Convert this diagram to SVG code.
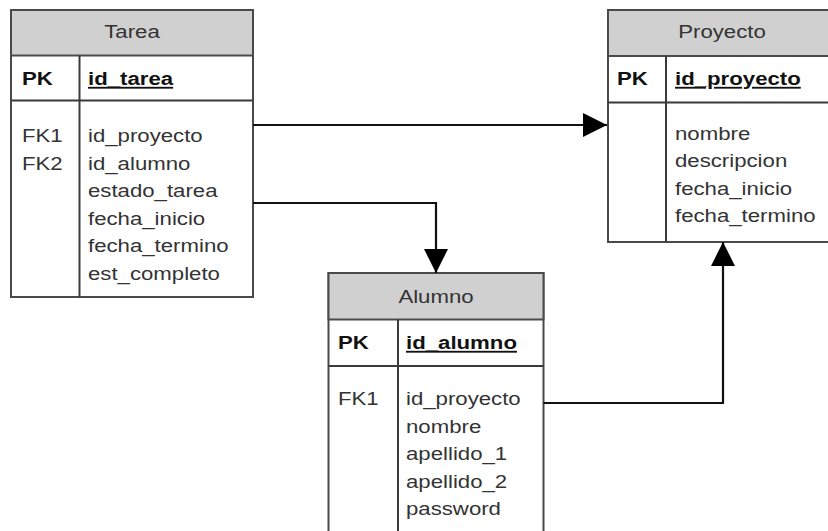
<svg xmlns="http://www.w3.org/2000/svg" width="828" height="531" viewBox="0 0 828 531">
  <defs>
    <style>
      .box { fill: #ffffff; stroke: #4a4a4a; stroke-width: 2; }
      .head { fill: #d0d0d0; stroke: #4a4a4a; stroke-width: 2; }
      .rule { stroke: #3a3a3a; stroke-width: 2; fill: none; }
      .link { stroke: #111111; stroke-width: 2.2; fill: none; }
      text { font-family: "Liberation Sans", Arial, sans-serif; font-size: 18.5px; fill: #333333; }
      .title { text-anchor: middle; }
      .key { font-weight: bold; fill: #111111; }
      .pk { font-weight: bold; fill: #111111; text-decoration: underline; }
    </style>
    <marker id="arrow" viewBox="0 0 24 24" refX="24" refY="12" markerWidth="24" markerHeight="24" markerUnits="userSpaceOnUse" orient="auto">
      <path d="M0,0 L24,12 L0,24 Z" fill="#000000"/>
    </marker>
  </defs>

  <!-- Table: Tarea -->
  <g id="tarea">
    <rect class="box" x="11" y="10" width="242" height="287"/>
    <rect class="head" x="11" y="10" width="242" height="45.5"/>
    <line class="rule" x1="11" y1="100.5" x2="253" y2="100.5"/>
    <line class="rule" x1="79.5" y1="55.5" x2="79.5" y2="297"/>
    <text class="title" transform="translate(132 38) scale(1.2 1)">Tarea</text>
    <text class="key" transform="translate(22 85) scale(1.2 1)">PK</text>
    <text class="pk" transform="translate(88 85) scale(1.2 1)">id_tarea</text>
    <text transform="translate(22 142) scale(1.2 1)">FK1</text>
    <text transform="translate(22 169.5) scale(1.2 1)">FK2</text>
    <text transform="translate(88 142) scale(1.2 1)">id_proyecto</text>
    <text transform="translate(88 169.5) scale(1.2 1)">id_alumno</text>
    <text transform="translate(88 197) scale(1.2 1)">estado_tarea</text>
    <text transform="translate(88 224.5) scale(1.2 1)">fecha_inicio</text>
    <text transform="translate(88 252) scale(1.2 1)">fecha_termino</text>
    <text transform="translate(88 279.5) scale(1.2 1)">est_completo</text>
  </g>

  <!-- Table: Proyecto (runs past the right edge) -->
  <g id="proyecto">
    <rect class="box" x="608" y="10" width="230" height="232"/>
    <rect class="head" x="608" y="10" width="230" height="46"/>
    <line class="rule" x1="608" y1="102.5" x2="838" y2="102.5"/>
    <line class="rule" x1="666" y1="56" x2="666" y2="242"/>
    <text class="title" transform="translate(722 38) scale(1.2 1)">Proyecto</text>
    <text class="key" transform="translate(617 85) scale(1.2 1)">PK</text>
    <text class="pk" transform="translate(675 85) scale(1.2 1)">id_proyecto</text>
    <text transform="translate(675 140) scale(1.2 1)">nombre</text>
    <text transform="translate(675 167.3) scale(1.2 1)">descripcion</text>
    <text transform="translate(675 194.6) scale(1.2 1)">fecha_inicio</text>
    <text transform="translate(675 222) scale(1.2 1)">fecha_termino</text>
  </g>

  <!-- Table: Alumno (runs past the bottom edge) -->
  <g id="alumno">
    <rect class="box" x="328.5" y="273" width="215" height="270"/>
    <rect class="head" x="328.5" y="273" width="215" height="46.5"/>
    <line class="rule" x1="328.5" y1="366" x2="543.5" y2="366"/>
    <line class="rule" x1="398" y1="319.5" x2="398" y2="543"/>
    <text class="title" transform="translate(436 303) scale(1.2 1)">Alumno</text>
    <text class="key" transform="translate(338 349) scale(1.2 1)">PK</text>
    <text class="pk" transform="translate(406 349) scale(1.2 1)">id_alumno</text>
    <text transform="translate(338 405) scale(1.2 1)">FK1</text>
    <text transform="translate(406 405) scale(1.2 1)">id_proyecto</text>
    <text transform="translate(406 432.5) scale(1.2 1)">nombre</text>
    <text transform="translate(406 460) scale(1.2 1)">apellido_1</text>
    <text transform="translate(406 487.5) scale(1.2 1)">apellido_2</text>
    <text transform="translate(406 515) scale(1.2 1)">password</text>
  </g>

  <!-- Foreign-key connectors -->
  <g id="connectors">
    <path class="link" d="M253,125 H607" marker-end="url(#arrow)"/>
    <path class="link" d="M253,203 H436 V273" marker-end="url(#arrow)"/>
    <path class="link" d="M543.5,403 H723 V242" marker-end="url(#arrow)"/>
  </g>
</svg>
